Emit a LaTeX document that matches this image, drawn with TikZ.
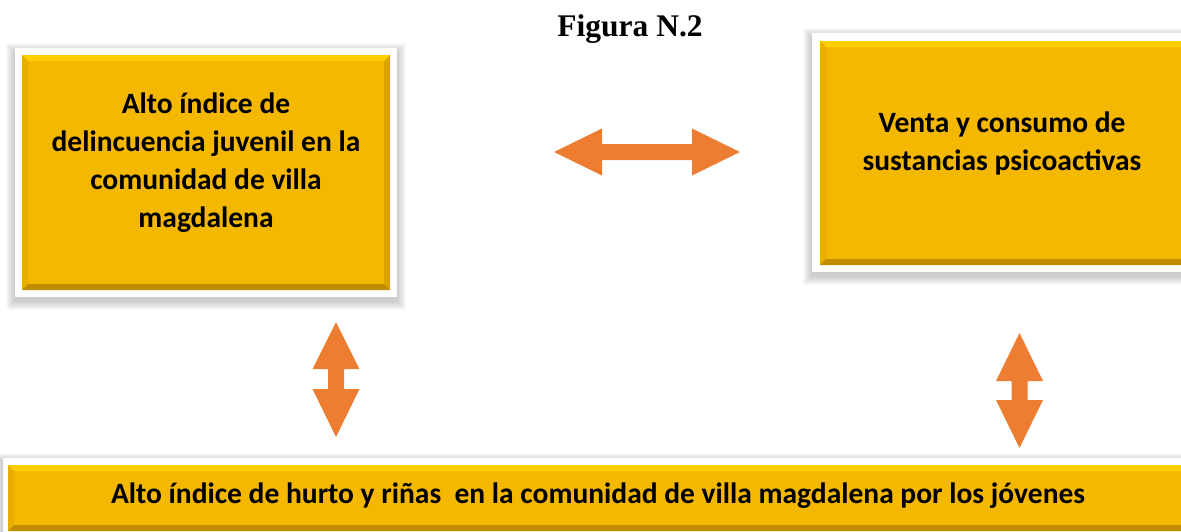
\documentclass[tikz,border=0pt]{standalone}
\usepackage{fontspec}
\setmainfont{Liberation Serif}
\newfontfamily\boxfont{Carlito}
\definecolor{gold}{HTML}{F5B800}
\definecolor{goldtop}{HTML}{FFCE00}
\definecolor{goldleft}{HTML}{EBAE00}
\definecolor{goldright}{HTML}{DCA200}
\definecolor{goldbottom}{HTML}{C08C00}
\definecolor{arroworange}{HTML}{ED7D31}
\newcommand\myshadow[4]{%
  \foreach \k in {1,...,9}{\fill[black,opacity=0.022] (#1-\k,#2-\k+4) rectangle (#3+\k,#4+\k+4);}}
\newcommand\mybevel[4]{%
  \fill[gold] (#1,#2) rectangle (#3,#4);
  \fill[goldtop] (#1,#2) -- (#3,#2) -- (#3-6,#2+6) -- (#1+6,#2+6) -- cycle;
  \fill[goldleft] (#1,#2) -- (#1+6,#2+6) -- (#1+6,#4-6) -- (#1,#4) -- cycle;
  \fill[goldright] (#3,#2) -- (#3,#4) -- (#3-6,#4-6) -- (#3-6,#2+6) -- cycle;
  \fill[goldbottom] (#1,#4) -- (#1+6,#4-6) -- (#3-6,#4-6) -- (#3,#4) -- cycle;}
\begin{document}
\begin{tikzpicture}[x=1pt,y=-1pt,
  frame/.style={fill=white},
  boxtext/.style={font=\boxfont\bfseries\fontsize{29.5}{38}\selectfont, align=center, inner sep=0pt, anchor=base},
  blockarrow/.style={fill=arroworange}]
\useasboundingbox (0,0) rectangle (1181,531);
% shadows and frames
\myshadow{15}{48}{397}{297}
\myshadow{812}{33}{1200}{272}
\myshadow{3}{458}{1200}{545}
\fill[frame] (15,48) rectangle (397,297);
\fill[frame] (812,33) rectangle (1200,272);
\fill[frame] (3,458) rectangle (1200,545);
% bevelled boxes
\mybevel{22}{55}{390}{290}
\mybevel{820}{41}{1195}{265}
\mybevel{8}{465}{1195}{531}
% title
\node[font=\bfseries\fontsize{31.5}{36}\selectfont, anchor=base, inner sep=0pt] (title) at (630,36) {Figura N.2};
% texts (base anchor = baseline of last line)
\node[boxtext] (left) at (206,227) {Alto índice de\\delincuencia juvenil en la\\comunidad de villa\\magdalena};
\node[boxtext] (right) at (1002,170) {Venta y consumo de\\sustancias psicoactivas};
\node[boxtext] (bottom) at (598,503) {Alto índice de hurto y riñas~ en la comunidad de villa magdalena por los jóvenes};
% block arrows
\fill[blockarrow] (554,152) -- (602,128.5) -- (602,144) -- (692,144) -- (692,128.5) -- (740,152)
  -- (692,175.5) -- (692,160) -- (602,160) -- (602,175.5) -- cycle;
\fill[blockarrow] (336,322) -- (359.5,369) -- (344,369) -- (344,389) -- (359.5,389) -- (336,437)
  -- (312.5,389) -- (328,389) -- (328,369) -- (312.5,369) -- cycle;
\fill[blockarrow] (1019.5,333) -- (1043,381) -- (1027.5,381) -- (1027.5,400) -- (1043,400) -- (1019.5,448)
  -- (996,400) -- (1011.5,400) -- (1011.5,381) -- (996,381) -- cycle;
\end{tikzpicture}
\end{document}
